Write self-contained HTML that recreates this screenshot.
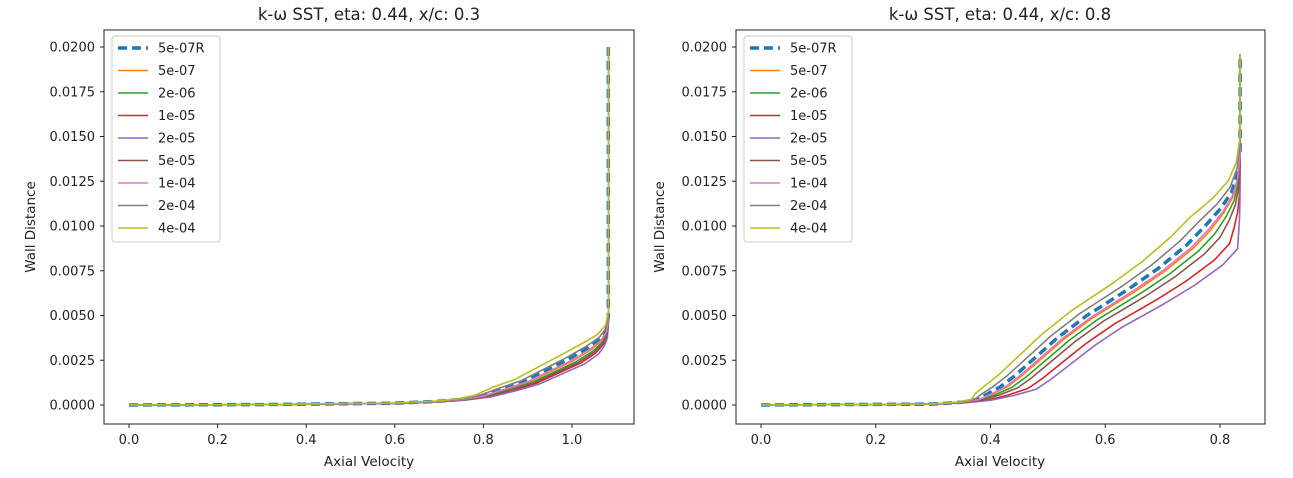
<!DOCTYPE html>
<html><head><meta charset="utf-8"><style>
html,body{margin:0;padding:0;background:#fff;}
svg{display:block;font-family:"DejaVu Sans","Liberation Sans",sans-serif;}
</style></head><body>
<svg id="s" width="1293" height="478" viewBox="0 0 1293 478" xmlns="http://www.w3.org/2000/svg">
<rect width="1293" height="478" fill="#fff"/>
<g id="g"></g>
<text x="369" y="20" font-size="16.5" text-anchor="middle" fill="#222">k-ω SST, eta: 0.44, x/c: 0.3</text>
<text x="1000" y="20" font-size="16.5" text-anchor="middle" fill="#222">k-ω SST, eta: 0.44, x/c: 0.8</text>
<text x="369" y="466" font-size="13.5" text-anchor="middle" fill="#222">Axial Velocity</text>
<text x="1000" y="466" font-size="13.5" text-anchor="middle" fill="#222">Axial Velocity</text>
<text transform="translate(35,227) rotate(-90)" font-size="13.5" text-anchor="middle" fill="#222">Wall Distance</text>
<text transform="translate(664,227) rotate(-90)" font-size="13.5" text-anchor="middle" fill="#222">Wall Distance</text>
</svg>
<script>
var NS="http://www.w3.org/2000/svg",g=document.getElementById('g');
function el(t,a,txt){var e=document.createElementNS(NS,t);for(var k in a)e.setAttribute(k,a[k]);if(txt!==undefined)e.textContent=txt;g.appendChild(e);return e;}
var names=["5e-07R","5e-07","2e-06","1e-05","2e-05","5e-05","1e-04","2e-04","4e-04"];
var cols=["#1f77b4","#ff7f0e","#2ca02c","#d62728","#9467bd","#8c564b","#e377c2","#7f7f7f","#bcbd22"];
function yv(v){return 405-v*17900;}
var P=[
 {L:104,R:634,x0:129,sx:443,xt:[0,0.2,0.4,0.6,0.8,1.0],ylx:95,
  base:[[0,0],[0.3,0.00002],[0.6,0.0001],[0.7,0.0002],[0.75,0.0003],[0.8,0.0005],[0.85,0.0009],[0.9,0.0013],[0.95,0.0019],[1.0,0.0025],[1.04,0.0031],[1.065,0.0036],[1.078,0.0041],[1.082,0.0048],[1.082,0.0200]],
  sh:[-0.008,0.003,0.01,0.02,0.028,0.015,0.0,-0.015,-0.03],umax:1.082,ys:3},
 {L:736,R:1265,x0:761,sx:573.75,xt:[0,0.2,0.4,0.6,0.8],ylx:727,
  base:[[0,0],[0.3,0.00005],[0.35,0.00015],[0.38,0.0003],[0.4,0.0006],[0.425,0.001],[0.45,0.0016],[0.475,0.0023],[0.5,0.003],[0.525,0.0037],[0.55,0.0043],[0.575,0.0049],[0.6,0.0054],[0.65,0.0064],[0.7,0.0075],[0.75,0.0088],[0.78,0.0098],[0.805,0.0108],[0.822,0.0117],[0.831,0.0127],[0.835,0.0140],[0.835,0.0196]],
  sh:[-0.008,0.003,0.012,0.04,0.055,0.022,0.0,-0.02,-0.035],umax:0.835,ys:2}
];
P.forEach(function(p){
 el('rect',{x:p.L,y:30,width:p.R-p.L,height:394,fill:'none',stroke:'#222','stroke-width':1});
 p.xt.forEach(function(t){var x=p.x0+t*p.sx;el('line',{x1:x,y1:424,x2:x,y2:428,stroke:'#222'});el('text',{x:x,y:444,'font-size':13,'text-anchor':'middle',fill:'#222'},t.toFixed(1));});
 for(var i=0;i<=8;i++){var v=i*0.0025,y=yv(v);el('line',{x1:p.L-4,y1:y,x2:p.L,y2:y,stroke:'#222'});el('text',{x:p.ylx,y:y+4.5,'font-size':13,'text-anchor':'end',fill:'#222'},v.toFixed(4));}
 [0,1,2,3,4,5,6,7,8].forEach(function(k){
  var d="",n=p.base.length;p.base.forEach(function(b,j){
   var u=b[0],yy=b[1];
   var w=Math.min(1,yy/0.0008)*Math.max(0,Math.min(1,(p.umax-u)/0.06));
   var uu=u+p.sh[k]*w; if(uu>p.umax)uu=p.umax; if(uu<0)uu=0;
   var y2=(j==n-1)?yy:yy*(1-p.ys*p.sh[k]);
   if(k==8&&u<0.3&&p.L<600)uu=u;
   d+=(j?"L":"M")+(p.x0+uu*p.sx).toFixed(1)+","+yv(y2).toFixed(1);
  });
  var a={d:d,fill:'none',stroke:cols[k],'stroke-width':k==0?3.5:1.6,'stroke-linejoin':'round'};
  if(k==0)a['stroke-dasharray']='9,5';
  el('path',a);
 });
 var lx=p.L+8;
 el('rect',{x:lx,y:36,width:108,height:206,rx:3,fill:'#fff','fill-opacity':0.8,stroke:'#ccc'});
 names.forEach(function(n,k){var y=48+k*22.5;
  var a={x1:lx+6,y1:y,x2:lx+36,y2:y,stroke:cols[k],'stroke-width':k==0?3.5:1.6};if(k==0)a['stroke-dasharray']='9,5';el('line',a);
  el('text',{x:lx+46,y:y+4.5,'font-size':13,fill:'#222'},n);});
});
</script>
</body></html>
